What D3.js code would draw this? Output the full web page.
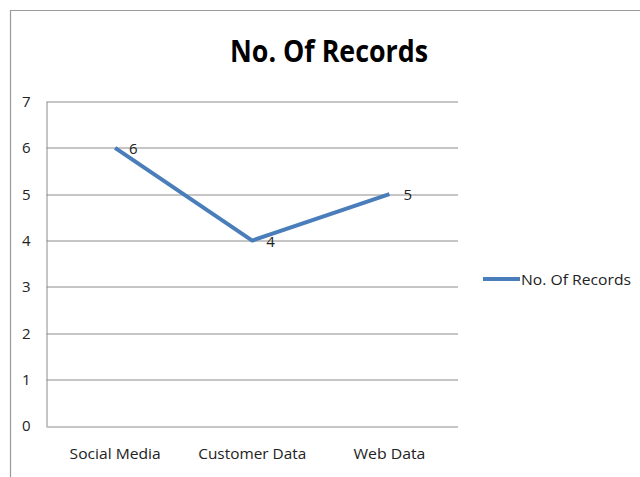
<!DOCTYPE html>
<html>
<head>
<meta charset="utf-8">
<script src="https://cdn.jsdelivr.net/npm/d3@7"></script>
<style>
  body { margin: 0; background: #fff; }
  svg text { font-family: "Open Sans", "Liberation Sans", sans-serif; fill: #222; }
</style>
</head>
<body>
<svg width="640" height="477"></svg>
<script>
// chart data
var categories = ["Social Media", "Customer Data", "Web Data"];
var records = [6, 4, 5];
var yTicks = [0, 1, 2, 3, 4, 5, 6, 7];
var seriesName = "No. Of Records";
var catWidths = { "Social Media": 91, "Customer Data": 108, "Web Data": 72 };

var margin = { top: 101.5, left: 46.5, right: 182, bottom: 51 },
    width = 640 - margin.left - margin.right,
    height = 477 - margin.top - margin.bottom;

var svg = d3.select("svg");

// outer chart border (only top and left visible)
svg.append("path")
    .attr("d", "M10.5,477 V10.5 H640")
    .attr("fill", "none")
    .attr("stroke", "#9a9a9a")
    .attr("stroke-width", 1.2);

svg.append("text")
    .attr("x", 329)
    .attr("y", 62)
    .attr("text-anchor", "middle")
    .style("font-size", "30px")
    .style("font-weight", "bold")
    .style("fill", "#000")
    .attr("textLength", 198)
    .attr("lengthAdjust", "spacingAndGlyphs")
    .text(seriesName);

var g = svg.append("g")
    .attr("transform", "translate(" + margin.left + "," + margin.top + ")");

var x = d3.scaleBand().domain(categories).range([0, width]);
var y = d3.scaleLinear().domain([0, 7]).range([height, 0]);

// gridlines
g.selectAll("line.grid")
    .data(yTicks)
    .enter().append("line")
    .attr("class", "grid")
    .attr("x1", 0).attr("x2", width)
    .attr("y1", function (d) { return Math.round(y(d)) + 0.5; })
    .attr("y2", function (d) { return Math.round(y(d)) + 0.5; })
    .attr("stroke", "#8c8c8c")
    .attr("stroke-width", 1);

// y axis
var yAxis = g.append("g")
    .call(d3.axisLeft(y).tickValues(yTicks).tickFormat(d3.format("d")).tickSize(0).tickPadding(16));
yAxis.select(".domain").attr("stroke", "#8c8c8c");
yAxis.selectAll("text").style("font-size", "15px").style("fill", "#222");

// x axis
var xAxis = g.append("g")
    .attr("transform", "translate(0," + height + ")")
    .call(d3.axisBottom(x).tickSize(0).tickPadding(22));
xAxis.select(".domain").remove();
xAxis.selectAll("text").style("font-size", "15px").style("fill", "#222")
    .attr("textLength", function (d) { return catWidths[d]; })
    .attr("lengthAdjust", "spacingAndGlyphs");

// series line
var line = d3.line()
    .x(function (d, i) { return x(categories[i]) + x.bandwidth() / 2; })
    .y(function (d) { return y(d); });

g.append("path")
    .datum(records)
    .attr("d", line)
    .attr("fill", "none")
    .attr("stroke", "#4a7ebb")
    .attr("stroke-width", 4)
    .attr("stroke-linejoin", "round");

// data labels
g.selectAll("text.label")
    .data(records)
    .enter().append("text")
    .attr("class", "label")
    .attr("x", function (d, i) { return x(categories[i]) + x.bandwidth() / 2 + 14; })
    .attr("y", function (d) { return y(d) + 6; })
    .style("font-size", "15px")
    .text(function (d) { return d; });

// legend
var legend = svg.append("g").attr("transform", "translate(483,279)");
legend.append("line")
    .attr("x1", 0).attr("x2", 37)
    .attr("stroke", "#4a7ebb")
    .attr("stroke-width", 4);
legend.append("text")
    .attr("x", 38)
    .attr("y", 5.5)
    .style("font-size", "15px")
    .attr("textLength", 110)
    .attr("lengthAdjust", "spacingAndGlyphs")
    .text(seriesName);
</script>
</body>
</html>
